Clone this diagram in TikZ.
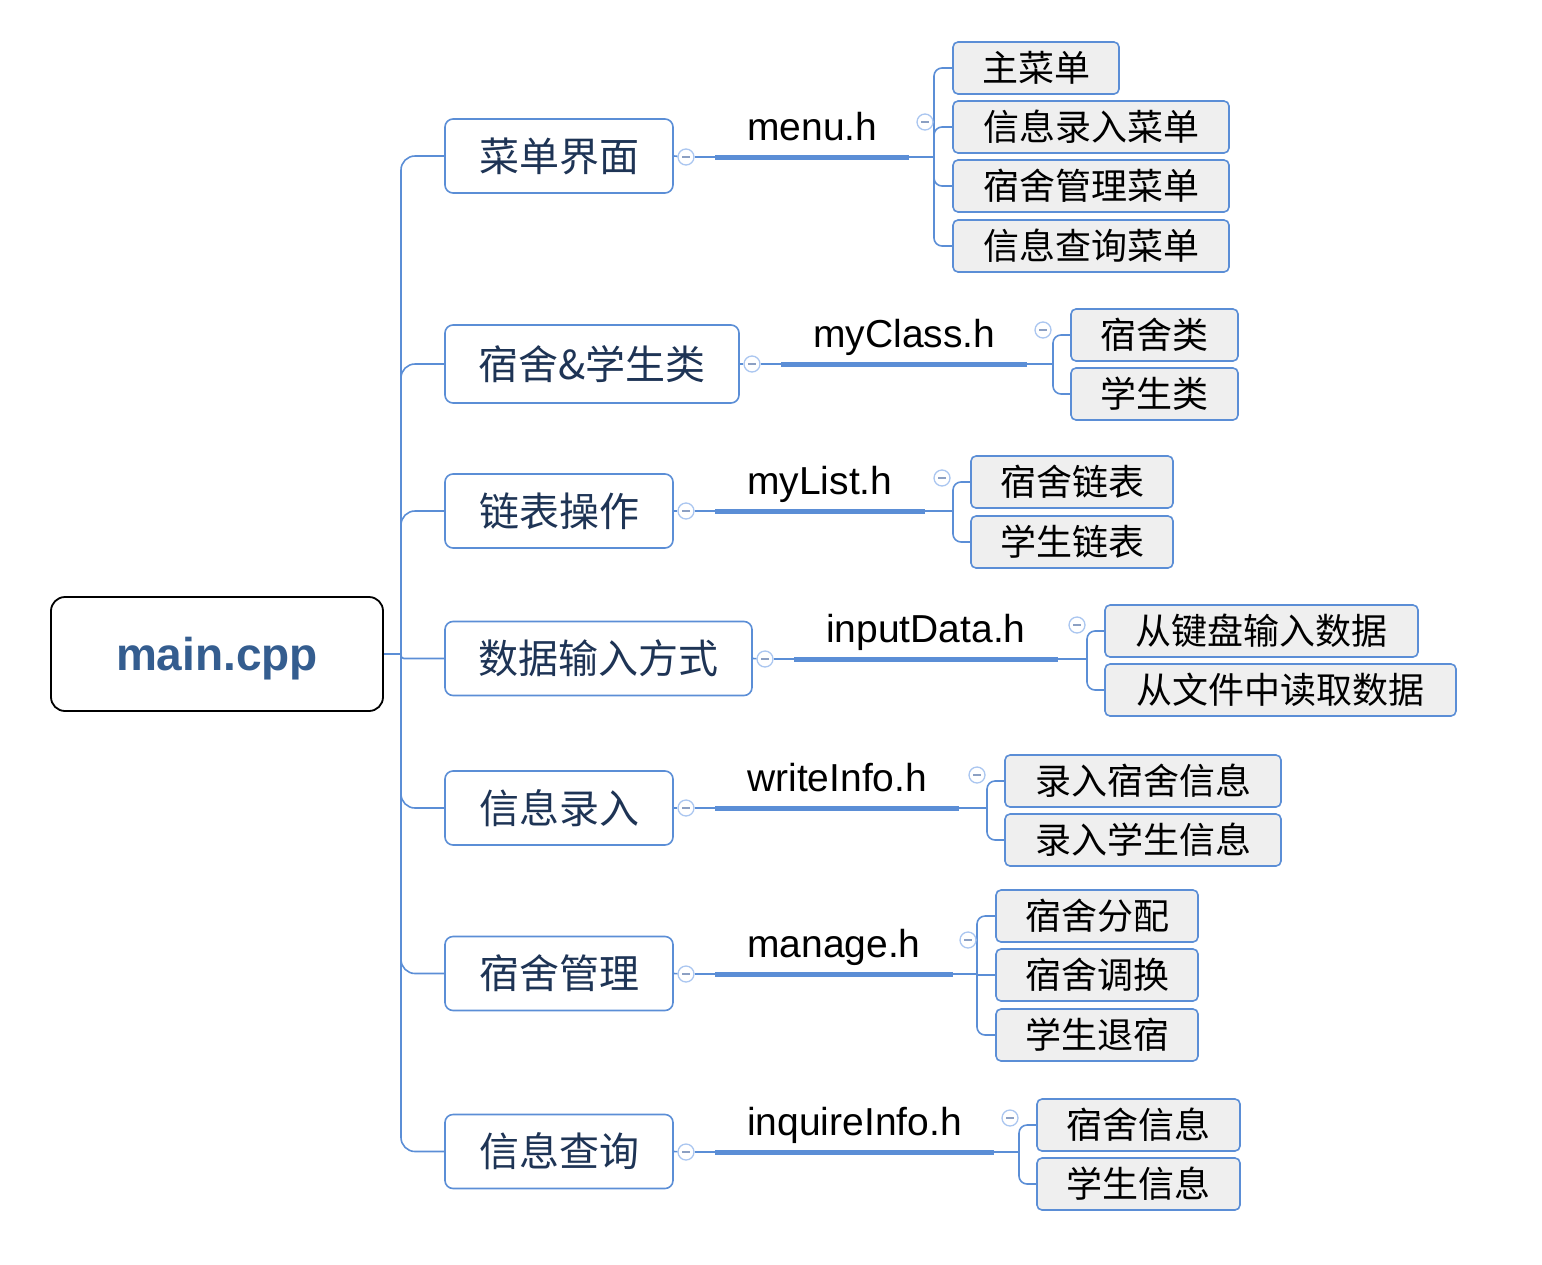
\documentclass[tikz,border=0pt]{standalone}
\usepackage{fontspec}
\setmainfont{Liberation Sans}
\newfontfamily\cjk{Noto Sans CJK SC}
\definecolor{linecol}{RGB}{91,142,214}
\definecolor{midtext}{RGB}{30,52,85}
\definecolor{maintext}{RGB}{52,93,143}
\definecolor{leaffill}{RGB}{239,239,239}
\definecolor{circcol}{RGB}{170,198,240}
\definecolor{minuscol}{RGB}{140,160,195}
\begin{document}
\begin{tikzpicture}[x=1pt,y=-1pt,
  mainbox/.style={draw=black, line width=1.8pt, rounded corners=14pt, fill=white, minimum width=332, minimum height=114, inner sep=0, text height=33pt, text depth=0pt, text=maintext, font=\fontsize{46}{52}\selectfont\bfseries},
  midbox/.style={draw=linecol, line width=1.6pt, rounded corners=8pt, fill=white, minimum height=74, inner sep=0, text=midtext, font=\cjk\fontsize{40}{46}\selectfont},
  leaf/.style={draw=linecol, line width=1.6pt, rounded corners=5pt, fill=leaffill, minimum height=52, inner sep=0, text=black, font=\cjk\fontsize{36}{42}\selectfont},
  lab/.style={anchor=base west, inner xsep=32pt, inner ysep=0pt, text=black, font=\fontsize{39}{46}\selectfont},
  conn/.style={draw=linecol, line width=1.6pt},
  hbar/.style={draw=linecol, line width=5pt},
  col/.style={circle, draw=circcol, line width=1.3pt, fill=white, minimum size=16pt, inner sep=0,
    path picture={\draw[minuscol, line width=1.4pt] ([xshift=-4pt]path picture bounding box.center) -- ([xshift=4pt]path picture bounding box.center);}}
]
\useasboundingbox (0,0) rectangle (1542,1264);

% main
\node[mainbox] (main) at (217,654) {main.cpp};

% mid nodes
\node[midbox, minimum width=228] (m1) at (559,156) {菜单界面};
\node[midbox, minimum width=294, minimum height=78] (m2) at (592,364) {宿舍\&学生类};
\node[midbox, minimum width=228] (m3) at (559,511) {链表操作};
\node[midbox, minimum width=307] (m4) at (598.5,658.5) {数据输入方式};
\node[midbox, minimum width=228] (m5) at (559,808) {信息录入};
\node[midbox, minimum width=228] (m6) at (559,973.5) {宿舍管理};
\node[midbox, minimum width=228] (m7) at (559,1151.5) {信息查询};

% trunk
\coordinate (tr) at (401,654);
\draw[conn] (main.east) -- (tr);
\draw[conn, rounded corners=14pt] (tr) |- (m1.west);
\draw[conn, rounded corners=14pt] (tr) |- (m2.west);
\draw[conn, rounded corners=14pt] (tr) |- (m3.west);
\draw[conn, rounded corners=3pt] (tr) |- (m4.west);
\draw[conn, rounded corners=14pt] (tr) |- (m5.west);
\draw[conn, rounded corners=14pt] (tr) |- (m6.west);
\draw[conn, rounded corners=14pt] (tr) |- (m7.west);

% group 1
\node[col] (c1) at (686,157) {};
\coordinate (h1) at (715,157);
\node[lab] (l1) at (715,140) {menu.h};
\coordinate (b1) at (934,157);
\node[leaf, minimum width=166] (k11) at (1036,68) {主菜单};
\node[leaf, minimum width=276] (k12) at (1091,127) {信息录入菜单};
\node[leaf, minimum width=276] (k13) at (1091,186) {宿舍管理菜单};
\node[leaf, minimum width=276] (k14) at (1091,246) {信息查询菜单};
\draw[conn] (m1.east) -- (c1);
\draw[conn] (c1) -- (h1);
\draw[hbar] (h1) -- (l1.east |- h1);
\draw[conn] (l1.east |- h1) -- (b1);
\draw[conn, rounded corners=8pt] (b1) |- (k11.west);
\draw[conn, rounded corners=8pt] (b1) |- (k12.west);
\draw[conn, rounded corners=8pt] (b1) |- (k13.west);
\draw[conn, rounded corners=8pt] (b1) |- (k14.west);
\node[col] (d1) at (925,122) {};

% group 2
\node[col] (c2) at (752,364) {};
\coordinate (h2) at (781,364);
\node[lab] (l2) at (781,347) {myClass.h};
\coordinate (b2) at (1053,364);
\node[leaf, minimum width=167] (k21) at (1154.5,335) {宿舍类};
\node[leaf, minimum width=167] (k22) at (1154.5,394) {学生类};
\draw[conn] (m2.east) -- (c2);
\draw[conn] (c2) -- (h2);
\draw[hbar] (h2) -- (l2.east |- h2);
\draw[conn] (l2.east |- h2) -- (b2);
\draw[conn, rounded corners=8pt] (b2) |- (k21.west);
\draw[conn, rounded corners=8pt] (b2) |- (k22.west);
\node[col] (d2) at (1043,330) {};

% group 3
\node[col] (c3) at (686,511) {};
\coordinate (h3) at (715,511);
\node[lab] (l3) at (715,494) {myList.h};
\coordinate (b3) at (953,511);
\node[leaf, minimum width=202] (k31) at (1072,482) {宿舍链表};
\node[leaf, minimum width=202] (k32) at (1072,542) {学生链表};
\draw[conn] (m3.east) -- (c3);
\draw[conn] (c3) -- (h3);
\draw[hbar] (h3) -- (l3.east |- h3);
\draw[conn] (l3.east |- h3) -- (b3);
\draw[conn, rounded corners=8pt] (b3) |- (k31.west);
\draw[conn, rounded corners=8pt] (b3) |- (k32.west);
\node[col] (d3) at (942,478) {};

% group 4
\node[col] (c4) at (765,659) {};
\coordinate (h4) at (794,659);
\node[lab] (l4) at (794,642) {inputData.h};
\coordinate (b4) at (1087,659);
\node[leaf, minimum width=313] (k41) at (1261.5,631) {从键盘输入数据};
\node[leaf, minimum width=351] (k42) at (1280.5,690) {从文件中读取数据};
\draw[conn] (m4.east) -- (c4);
\draw[conn] (c4) -- (h4);
\draw[hbar] (h4) -- (l4.east |- h4);
\draw[conn] (l4.east |- h4) -- (b4);
\draw[conn, rounded corners=8pt] (b4) |- (k41.west);
\draw[conn, rounded corners=8pt] (b4) |- (k42.west);
\node[col] (d4) at (1077,625) {};

% group 5
\node[col] (c5) at (686,808) {};
\coordinate (h5) at (715,808);
\node[lab] (l5) at (715,791) {writeInfo.h};
\coordinate (b5) at (987,808);
\node[leaf, minimum width=276] (k51) at (1143,781) {录入宿舍信息};
\node[leaf, minimum width=276] (k52) at (1143,840) {录入学生信息};
\draw[conn] (m5.east) -- (c5);
\draw[conn] (c5) -- (h5);
\draw[hbar] (h5) -- (l5.east |- h5);
\draw[conn] (l5.east |- h5) -- (b5);
\draw[conn, rounded corners=8pt] (b5) |- (k51.west);
\draw[conn, rounded corners=8pt] (b5) |- (k52.west);
\node[col] (d5) at (977,775) {};

% group 6
\node[col] (c6) at (686,974) {};
\coordinate (h6) at (715,974);
\node[lab] (l6) at (715,957) {manage.h};
\coordinate (b6) at (977,974);
\node[leaf, minimum width=202] (k61) at (1097,916) {宿舍分配};
\node[leaf, minimum width=202] (k62) at (1097,975) {宿舍调换};
\node[leaf, minimum width=202] (k63) at (1097,1035) {学生退宿};
\draw[conn] (m6.east) -- (c6);
\draw[conn] (c6) -- (h6);
\draw[hbar] (h6) -- (l6.east |- h6);
\draw[conn] (l6.east |- h6) -- (b6);
\draw[conn, rounded corners=8pt] (b6) |- (k61.west);
\draw[conn] (b6) |- (k62.west);
\draw[conn, rounded corners=8pt] (b6) |- (k63.west);
\node[col] (d6) at (968,940) {};

% group 7
\node[col] (c7) at (686,1152) {};
\coordinate (h7) at (715,1152);
\node[lab] (l7) at (715,1135) {inquireInfo.h};
\coordinate (b7) at (1019,1152);
\node[leaf, minimum width=203] (k71) at (1138.5,1125) {宿舍信息};
\node[leaf, minimum width=203] (k72) at (1138.5,1184) {学生信息};
\draw[conn] (m7.east) -- (c7);
\draw[conn] (c7) -- (h7);
\draw[hbar] (h7) -- (l7.east |- h7);
\draw[conn] (l7.east |- h7) -- (b7);
\draw[conn, rounded corners=8pt] (b7) |- (k71.west);
\draw[conn, rounded corners=8pt] (b7) |- (k72.west);
\node[col] (d7) at (1010,1118) {};
\end{tikzpicture}
\end{document}
